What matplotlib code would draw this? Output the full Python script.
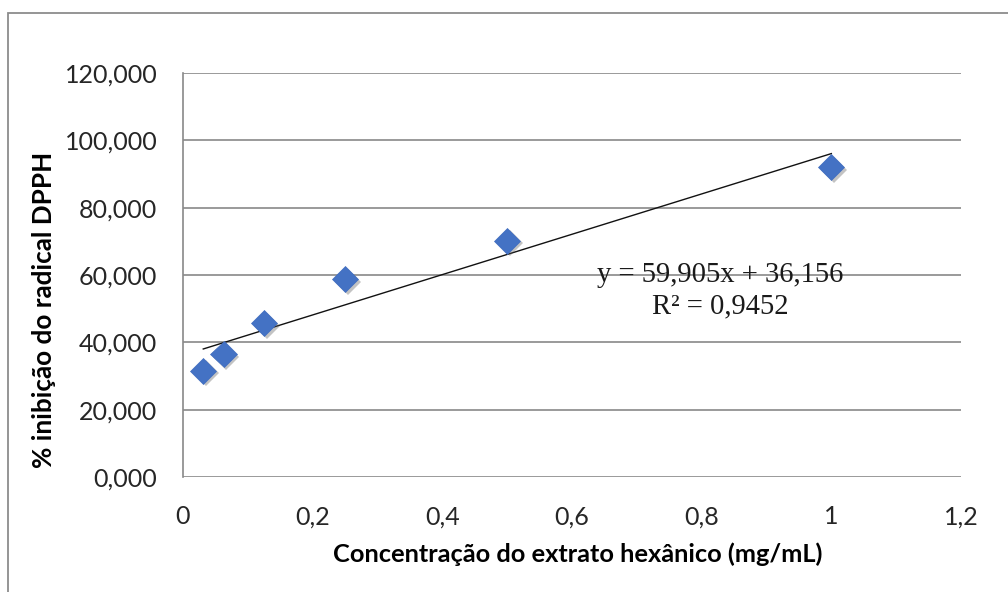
import matplotlib
matplotlib.use("Agg")
import matplotlib.pyplot as plt
import matplotlib.patheffects as pe
from matplotlib.patches import Rectangle
import numpy as np

# Data
conc = [0.03125, 0.0625, 0.125, 0.25, 0.5, 1.0]
inhib = [31.6, 36.6, 45.8, 58.7, 70.2, 92.0]
slope = 59.905
intercept = 36.156
r2 = 0.9452
xticks = [0, 0.2, 0.4, 0.6, 0.8, 1.0, 1.2]
xtick_labels = ["0", "0,2", "0,4", "0,6", "0,8", "1", "1,2"]
yticks = [0, 20, 40, 60, 80, 100, 120]
ytick_labels = ["0,000", "20,000", "40,000", "60,000", "80,000", "100,000", "120,000"]

W, H = 1008, 592
fig = plt.figure(figsize=(W / 100, H / 100), dpi=100)
fig.patch.set_facecolor("white")

# chart-area border (extends beyond right/bottom edges)
fig.add_artist(Rectangle((8 / W, -0.2), 1.5, (H - 13.5) / H + 0.2,
                         transform=fig.transFigure, fill=False,
                         ec="#8c8c8c", lw=1.3))

ax = fig.add_axes([183 / W, 1 - 477 / H, (961 - 183) / W, (477 - 73) / H])
ax.set_xlim(0, 1.2)
ax.set_ylim(0, 120)

grid_c = "#898989"
for s in ["top", "right", "bottom"]:
    ax.spines[s].set_visible(False)
ax.spines["left"].set_color(grid_c)
ax.spines["left"].set_linewidth(1.2)
ax.set_yticks(yticks)
ax.set_yticklabels(ytick_labels)
ax.set_xticks(xticks)
ax.set_xticklabels(xtick_labels)
ax.yaxis.grid(True, color=grid_c, lw=1.2)
ax.set_axisbelow(True)
ax.tick_params(length=0, labelsize=18, colors="#262626")
ax.tick_params(axis="y", pad=18.5)
ax.tick_params(axis="x", pad=20.5)
for lab in ax.get_xticklabels() + ax.get_yticklabels():
    lab.set_fontfamily("Lato")

# trendline
xt = np.array([min(conc), max(conc)])
ax.plot(xt, slope * xt + intercept, color="#111111", lw=1.0, zorder=3)

# markers with shadow
ax.plot(conc, inhib, linestyle="none", marker="D", ms=13.3,
        mfc="#4472C4", mec="#3f6cbf", mew=0.5, zorder=4,
        path_effects=[pe.SimplePatchShadow(offset=(2, -2), alpha=0.35, shadow_rgbFace="#555555"),
                      pe.Normal()])

# equation text
ax.text(0.828, 60.0, "y = 59,905x + 36,156", fontfamily="Liberation Serif",
        fontsize=20.6, ha="center", va="center", color="#1a1a1a", zorder=5)
ax.text(0.828, 50.6, "R² = 0,9452", fontfamily="Liberation Serif",
        fontsize=20.6, ha="center", va="center", color="#1a1a1a", zorder=5)

ax.set_xlabel("Concentração do extrato hexânico (mg/mL)", fontfamily="Lato",
              fontweight="bold", fontsize=18.3, color="black", va="center")
ax.xaxis.set_label_coords((578 - 183) / 778, (477 - 554) / 404)
ax.set_ylabel("% inibição do radical DPPH", fontfamily="Lato",
              fontweight="bold", fontsize=18.8, color="black", va="center", ha="center")
ax.yaxis.set_label_coords((44 - 183) / 778, (477 - 310) / 404)

fig.savefig("out.png", dpi=100)
